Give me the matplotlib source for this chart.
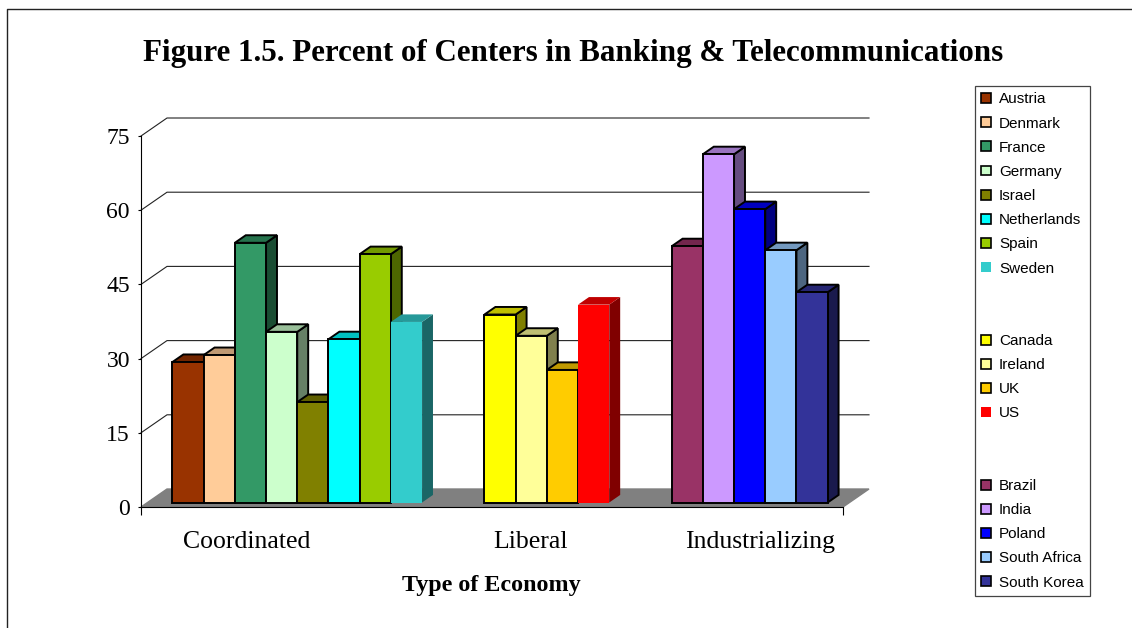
import matplotlib
matplotlib.use('Agg')
import matplotlib.pyplot as plt
from matplotlib.lines import Line2D
from matplotlib.patches import Patch
from matplotlib.colors import to_rgb

SERIF = 'Liberation Serif'
SANS = 'Liberation Sans'

economies = ['Coordinated', 'Liberal', 'Industrializing']
countries = [
    ['Austria', 'Denmark', 'France', 'Germany', 'Israel', 'Netherlands', 'Spain', 'Sweden'],
    ['Canada', 'Ireland', 'UK', 'US'],
    ['Brazil', 'India', 'Poland', 'South Africa', 'South Korea'],
]
values = [
    [28.4, 29.8, 52.5, 34.5, 20.3, 33.0, 50.2, 36.5],
    [38.0, 33.7, 26.8, 40.0],
    [51.8, 70.4, 59.3, 51.0, 42.5],
]
colors = [
    ['#993300', '#FFCC99', '#339966', '#CCFFCC', '#808000', '#00FFFF', '#99CC00', '#33CCCC'],
    ['#FFFF00', '#FFFF99', '#FFCC00', '#FF0000'],
    ['#993366', '#CC99FF', '#0000FF', '#99CCFF', '#333399'],
]
no_edge = ['Sweden', 'US']
yticks = [0, 15, 30, 45, 60, 75]

group_start = [0.8, 10.8, 16.8]
label_pos = [3.38, 12.47, 19.85]
X_MAX = 22.5
# full depth of the floor, in data units
DX = 26 / 31.2
DY = 18 / 4.947
BAR_FRONT = 0.25
BAR_DEPTH = 0.42


def shade(color, k):
    return tuple(c * k for c in to_rgb(color))


def draw_bar(ax, x, val, color, edge, z):
    x0 = x + BAR_FRONT * DX
    y0 = BAR_FRONT * DY
    ddx = BAR_DEPTH * DX
    ddy = BAR_DEPTH * DY
    lw = 1.4 if edge else 0
    ec = 'black' if edge else 'none'
    ax.fill([x0 + 1, x0 + 1 + ddx, x0 + 1 + ddx, x0 + 1],
            [y0, y0 + ddy, y0 + val + ddy, y0 + val],
            facecolor=shade(color, 0.5), edgecolor=ec, linewidth=lw, zorder=z, clip_on=False)
    ax.fill([x0, x0 + 1, x0 + 1 + ddx, x0 + ddx],
            [y0 + val, y0 + val, y0 + val + ddy, y0 + val + ddy],
            facecolor=shade(color, 0.75), edgecolor=ec, linewidth=lw, zorder=z, clip_on=False)
    ax.bar(x0, val, width=1, bottom=y0, align='edge', facecolor=color,
           edgecolor=ec, linewidth=lw, zorder=z, clip_on=False)


fig = plt.figure(figsize=(11.32, 6.28), dpi=100)
ax = fig.add_axes([141 / 1132, 1 - 507 / 628, 702 / 1132, 371 / 628])
ax.set_xlim(0, X_MAX)
ax.set_ylim(0, 75)
ax.patch.set_alpha(0)

# floor and back wall lines
ax.fill([0, X_MAX, X_MAX + DX, DX], [0, 0, DY, DY], color='#808080', zorder=1, clip_on=False)
for v in yticks[1:]:
    ax.plot([0, DX, X_MAX + DX], [v, v + DY, v + DY], color='#222222', lw=0.8, zorder=0, clip_on=False)

z = 2
for start, names, vals, cols in zip(group_start, countries, values, colors):
    for i in range(len(names)):
        draw_bar(ax, start + i, vals[i], cols[i], names[i] not in no_edge, z)
        z += 1

for s in ['top', 'right']:
    ax.spines[s].set_visible(False)
for s in ['left', 'bottom']:
    ax.spines[s].set_linewidth(0.8)
    ax.spines[s].set_zorder(1.5)

ax.set_yticks(yticks)
ax.set_yticklabels(yticks, fontfamily=SERIF, fontsize=17)
ax.tick_params(axis='y', length=2, width=0.8, pad=6)
ax.set_xticks(label_pos)
ax.set_xticklabels(economies, fontfamily=SERIF, fontsize=18.5)
ax.set_xticks([0, X_MAX], minor=True)
ax.tick_params(axis='x', which='major', length=0, pad=17)
ax.tick_params(axis='x', which='minor', length=6, width=0.8)

fig.text(491 / 1132, 1 - 586 / 628, 'Type of Economy', family=SERIF, fontsize=17.3,
         fontweight='bold', ha='center', va='center')
fig.text(573.5 / 1132, 1 - 54 / 628, 'Figure 1.5. Percent of Centers in Banking & Telecommunications',
         family=SERIF, fontsize=22.35, fontweight='bold', ha='center', va='center')

# legend, with blank rows between the groups
handles = []
for g, (names, cols) in enumerate(zip(countries, colors)):
    for n, c in zip(names, cols):
        handles.append(Patch(facecolor=c, edgecolor='none' if n in no_edge else 'black',
                             linewidth=1.2, label=n))
    if g < 2:
        handles.append(Patch(facecolor='none', edgecolor='none', label=' '))
        handles.append(Patch(facecolor='none', edgecolor='none', label=' '))
leg = fig.legend(handles=handles, loc='upper left', bbox_to_anchor=(975 / 1132, 1 - 86 / 628),
                 bbox_transform=fig.transFigure, borderaxespad=0, fancybox=False, framealpha=1,
                 edgecolor='#444444', prop={'family': SANS, 'size': 11}, labelspacing=0.665,
                 handlelength=0.62, handleheight=0.62, handletextpad=0.53, borderpad=0.42)
leg.get_frame().set_linewidth(0.9)

# page border round the chart
fig.add_artist(Line2D([7 / 1132, 7 / 1132, 1], [0, 1 - 9 / 628, 1 - 9 / 628], color='#222222', lw=1))

fig.savefig('out.png', dpi=100)
